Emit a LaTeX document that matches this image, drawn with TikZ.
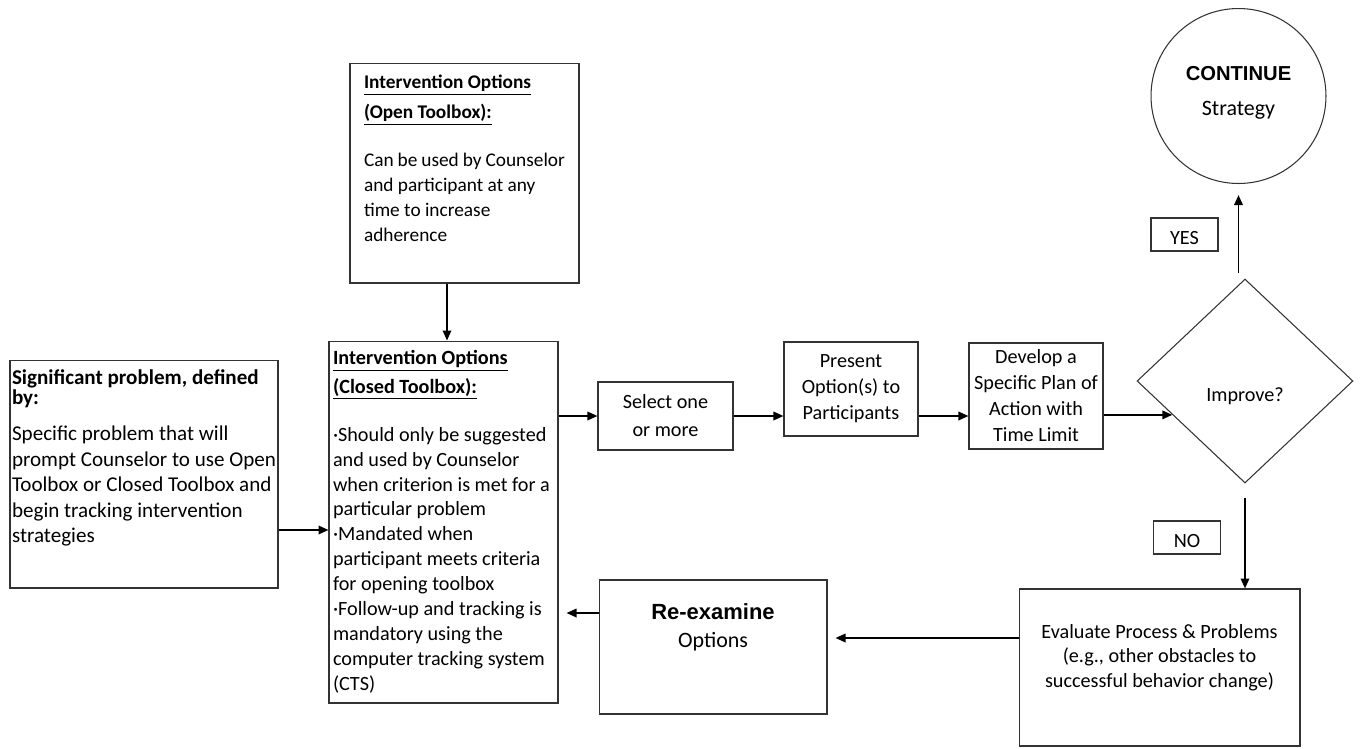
\documentclass[tikz,border=0pt]{standalone}
\usepackage{fontspec}
\setmainfont{Carlito}
\newfontfamily\arialfont{Liberation Sans}
\usetikzlibrary{shapes.geometric}
\usetikzlibrary{arrows.meta}
\tikzset{>={Triangle[length=2mm,width=1.7mm]}}

\begin{document}
\begin{tikzpicture}[x=0.02cm,y=-0.02cm]
      \tikzstyle{bnode} = [draw=black!80, line width=0.6pt, rectangle, inner sep=0pt, align=center, font=\fontsize{11.5}{14.2}\selectfont]
      \tikzstyle{tnode} = [draw=black!80, line width=0.6pt, rectangle, inner sep=0pt, minimum width=1.34cm, minimum height=0.66cm, text height=0.45cm, text depth=0.04cm, font=\fontsize{11.5}{14.2}\selectfont]
      \tikzstyle{qnode} = [draw=black!80, line width=0.6pt, diamond, inner sep=0pt, minimum width=4.32cm, minimum height=4.08cm, font=\fontsize{11.5}{14.2}\selectfont]
      \tikzstyle{enode} = [draw=black!80, line width=0.6pt, circle, minimum size=3.5cm, align=center, font=\fontsize{12.5}{19.4}\selectfont]
      \tikzstyle{flow} = [->, line width=1pt]

      \useasboundingbox (0,0) rectangle (1360,748);

      % toolboxes
      \node[bnode, minimum width=5.36cm, minimum height=4.56cm, font=\fontsize{12}{14.5}\selectfont] (sig) at (144,474) {\parbox[c][4.16cm][t]{5.28cm}{\raggedright
        \textbf{Significant problem, defined}\\[-0.12cm]
        \textbf{by:}\\[0.22cm]
        Specific problem that will\\
        prompt Counselor to use Open\\
        Toolbox or Closed Toolbox and\\
        begin tracking intervention\\
        strategies}};
      \node[bnode, minimum width=4.58cm, minimum height=4.4cm, font=\fontsize{11}{14.2}\selectfont] (opn) at (464.5,173) {\parbox[c][3.92cm][t]{4.02cm}{\raggedright
        \underline{\textbf{Intervention Options}}\\[0.1cm]
        \underline{\textbf{(Open Toolbox):}}\\[0.46cm]
        Can be used by Counselor\\
        and participant at any\\
        time to increase\\
        adherence}};
      \node[bnode, minimum width=4.58cm, minimum height=7.24cm] (cls) at (443.5,522) {\parbox[c][6.88cm][t]{4.42cm}{\raggedright
        \underline{\textbf{Intervention Options}}\\[0.08cm]
        \underline{\textbf{(Closed Toolbox):}}\\[0.46cm]
        ·Should only be suggested\\
        and used by Counselor\\
        when criterion is met for a\\
        particular problem\\
        ·Mandated when\\
        participant meets criteria\\
        for opening toolbox\\
        ·Follow-up and tracking is\\
        mandatory using the\\
        computer tracking system\\
        (CTS)}};

      % main row
      \node[bnode, minimum width=2.7cm, minimum height=1.36cm, font=\fontsize{11.5}{15.9}\selectfont] (sel) at (665.5,416) {Select one\\or more};
      \node[bnode, minimum width=2.68cm, minimum height=1.88cm, font=\fontsize{11.5}{14.8}\selectfont] (pres) at (851,389) {Present\\Option(s) to\\Participants};
      \node[bnode, minimum width=2.68cm, minimum height=2.12cm, font=\fontsize{11.5}{14.8}\selectfont] (dev) at (1036,396) {Develop a\\Specific Plan of\\Action with\\Time Limit};
      \node[qnode] (imp) at (1245,381) {\raisebox{-0.4cm}[0pt][0pt]{Improve?}\hspace{0.48cm}};
      \node[enode] (cont) at (1238.5,96) {{\arialfont\bfseries\fontsize{11.5}{14}\selectfont CONTINUE}\\Strategy\\[-0.48cm]\mbox{}};
      \node[tnode] (yes) at (1184.5,234.5) {YES\hspace{0.18cm}};
      \node[tnode] (no) at (1187,537.5) {NO\hspace{0.2cm}};

      % bottom row
      \node[bnode, minimum width=5.62cm, minimum height=3.14cm] (eval) at (1159.5,667.5) {\parbox[c][1.74cm][t]{5.4cm}{\centering
        Evaluate Process \& Problems\\
        (e.g., other obstacles to\\
        successful behavior change)}};
      \node[bnode, minimum width=4.56cm, minimum height=2.68cm, font=\fontsize{12.5}{14.2}\selectfont] (rex) at (713,647) {\parbox[c][1.72cm][t]{4.4cm}{\centering
        {\arialfont\bfseries\fontsize{12.5}{14}\selectfont Re-examine}\\[0.06cm]
        Options}};

      % edges
      \draw[flow] ([xshift=-0.35cm]opn.south) -- ([xshift=-0.35cm]opn.south |- cls.north);
      \draw[flow] ([yshift=-1.12cm]sig.east) -- ([yshift=-1.12cm]sig.east -| cls.west);
      \draw[flow] (cls.east |- sel.west) -- (sel.west);
      \draw[flow] (sel.east) -- (sel.east -| pres.west);
      \draw[flow] (pres.east |- sel.east) -- (sel.east -| dev.west);
      \draw[flow] (dev.east |- imp.205) -- (imp.205);

      \draw[flow, shorten <=0.12cm, shorten >=0.22cm] (cont.south |- imp.north) -- (cont.south);
      \draw[flow, shorten <=0.28cm] (imp.south) -- (imp.south |- eval.north);

      \draw[flow, shorten >=0.16cm] ([yshift=0.18cm]rex.east -| eval.west) -- ([yshift=0.18cm]rex.east);
      \draw[flow, shorten >=0.16cm] ([yshift=0.68cm]rex.west) -- ([yshift=0.68cm]rex.west -| cls.east);
\end{tikzpicture}
\end{document}
